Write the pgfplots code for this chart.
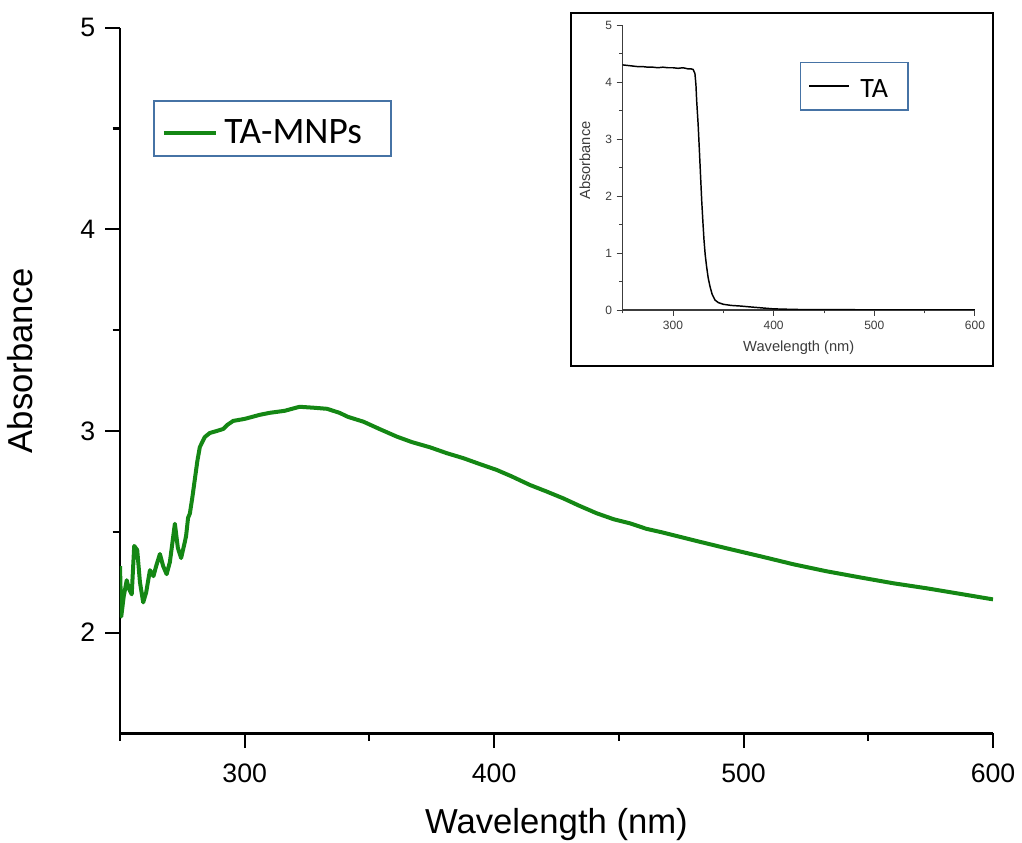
\documentclass[border=0pt]{standalone}
\usepackage{fontspec}
\setmainfont{Liberation Sans}
\newfontfamily\carlito{Carlito}
\usepackage{pgfplots}
\pgfplotsset{compat=1.18}
\definecolor{tagreen}{RGB}{20,135,20}
\definecolor{lgblue}{RGB}{70,115,165}
\definecolor{insetgray}{RGB}{60,60,60}
\begin{document}
\begin{tikzpicture}
\useasboundingbox (0,0) rectangle (766.5pt,632.25pt);
\begin{axis}[
  at={(90pt,82.125pt)}, anchor=south west,
  scale only axis, width=654.75pt, height=529.4pt,
  xmin=250, xmax=600, ymin=1.5, ymax=5,
  axis x line*=bottom, axis y line*=left,
  axis line style={line width=1.6pt, black},
  xtick={300,400,500,600}, minor xtick={250,350,450,550},
  ytick={2,3,4,5}, minor ytick={2.5,3.5,4.5},
  tick align=outside, major tick length=11pt, minor tick length=5.5pt,
  tick style={line width=1.6pt, black},
  /pgf/number format/assume math mode=true,
  ticklabel style={font=\fontsize{20}{24}\selectfont},
  xticklabel style={yshift=-8pt},
  yticklabel style={xshift=-4pt},
  xlabel={Wavelength (nm)}, ylabel={Absorbance},
  label style={font=\fontsize{26}{30}\selectfont, inner sep=0pt},
  xlabel style={at={(axis description cs:0.5,-0.141)}, anchor=base},
  ylabel style={at={(axis description cs:-0.0991,0.528)}, anchor=south},
  legend style={at={(rel axis cs:0.0378,0.8974)}, anchor=north west,
    draw=lgblue, line width=1.2pt, inner xsep=6pt, inner ysep=0pt,
    column sep=5pt, nodes={inner sep=0pt, text height=32.25pt, text depth=9pt}, fill=white,
    font=\carlito\fontsize{28}{30}\selectfont},
  legend image code/.code={\draw[#1, line width=3pt] (0pt,-3.4pt) -- (39pt,-3.4pt);},
]
\addplot[tagreen, line width=3pt, line join=round] coordinates {
(250,2.33) (250.5,2.08) (251.5,2.18) (252.7,2.26) (253.5,2.22) (254.7,2.19)
(255.7,2.43) (256.9,2.41) (258,2.25) (259.3,2.15) (260.5,2.20) (262,2.31)
(263.4,2.28) (264.5,2.33) (266,2.39) (267.3,2.33) (268.7,2.29) (270,2.35)
(272,2.54) (273.2,2.42) (274.5,2.37) (276,2.45) (276.5,2.48) (277.3,2.57)
(278,2.59) (279,2.67) (280,2.76) (281,2.85) (282,2.92) (284,2.97) (286,2.99)
(288.8,3.00) (291.4,3.01) (293,3.03) (295.4,3.05) (300,3.06) (306,3.08)
(310,3.09) (316,3.10) (322,3.12) (328,3.115) (333,3.11) (338,3.09)
(341.4,3.07) (347.6,3.046) (354,3.01) (361,2.972) (367,2.945) (374.3,2.919)
(381,2.89) (387.7,2.865) (394,2.837) (401,2.807) (407,2.775) (414.4,2.732)
(421,2.70) (427.7,2.666) (434,2.63) (441.1,2.592) (448,2.562) (454.5,2.542)
(461,2.515) (467.8,2.496) (480,2.458) (493.3,2.418) (507,2.378) (520,2.339)
(533,2.305) (546.7,2.274) (560,2.245) (573.4,2.22) (587,2.192) (600,2.165)
};
\addlegendentry{TA-MNPs\hspace*{16pt}}
\end{axis}
\draw[line width=2pt, fill=white] (428.25pt,357.75pt) rectangle (744.75pt,622.5pt);
\begin{axis}[
  at={(467pt,399.75pt)}, anchor=south west,
  scale only axis, width=264.2pt, height=213.75pt,
  xmin=250, xmax=600, ymin=0, ymax=5,
  axis x line*=bottom, axis y line*=left,
  axis line style={line width=0.8pt, insetgray},
  xtick={300,400,500,600}, minor xtick={250,350,450,550},
  ytick={0,1,2,3,4,5}, minor ytick={0.5,1.5,2.5,3.5,4.5},
  tick align=outside, major tick length=4.5pt, minor tick length=2.5pt,
  tick style={line width=0.7pt, insetgray},
  /pgf/number format/assume math mode=true,
  ticklabel style={font=\fontsize{9}{10}\selectfont, text=insetgray},
  xlabel={Wavelength (nm)}, ylabel={Absorbance},
  label style={font=\fontsize{11}{12}\selectfont, text=insetgray, inner sep=0pt},
  xlabel style={at={(axis description cs:0.5,-0.147)}, anchor=base},
  ylabel style={at={(axis description cs:-0.107,0.5246)}, anchor=center},
  legend style={at={(rel axis cs:0.503,0.871)}, anchor=north west,
    draw=lgblue, line width=1pt, inner xsep=6pt, inner ysep=0pt,
    column sep=7.5pt, nodes={inner sep=0pt, text height=26.25pt, text depth=9.5pt}, fill=white,
    font=\carlito\fontsize{21}{24}\selectfont},
  legend image code/.code={\draw[#1, line width=1.4pt] (0pt,0pt) -- (30pt,0pt);},
]
\addplot[black, line width=1.1pt, line join=round] coordinates {
(250,4.30) (255,4.29) (260,4.28) (265,4.27) (270,4.27) (275,4.26) (280,4.26)
(285,4.25) (290,4.26) (295,4.25) (300,4.25) (305,4.24) (310,4.25) (315,4.23)
(318,4.23) (320,4.22) (321.8,4.15) (322.8,3.95) (323.5,3.68) (325,3.25)
(326.2,2.81) (327.4,2.35) (328.5,1.93) (329.7,1.55) (330.8,1.23) (332,0.97)
(333.4,0.76) (335,0.56) (336.8,0.41) (339,0.27) (341.7,0.175) (345,0.13)
(350,0.10) (358,0.08) (366.6,0.07) (376,0.055) (386,0.04) (393,0.03)
(399.7,0.02) (420,0.01) (436,0.006) (500,0.004) (600,0.003)
};
\addlegendentry{TA\hspace*{9pt}}
\end{axis}
\end{tikzpicture}
\end{document}
